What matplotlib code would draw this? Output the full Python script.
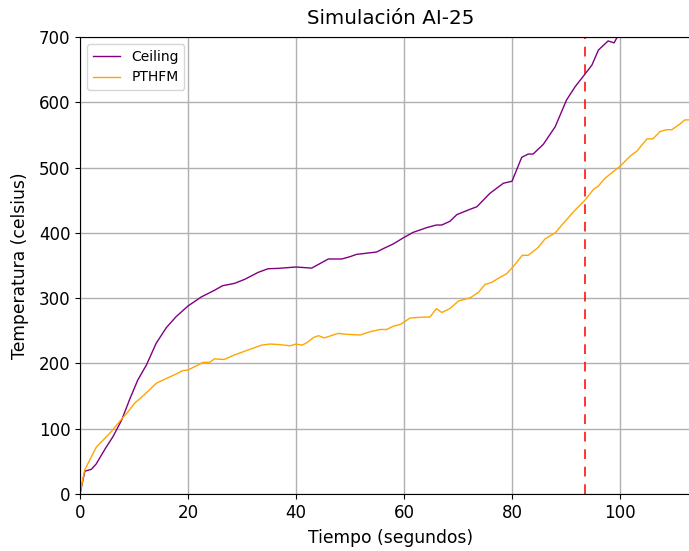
import matplotlib
matplotlib.use("Agg")
import matplotlib.pyplot as plt

# Ceiling temperature (time s, temp °C)
t_ceiling = [0, 0.9, 2.1, 3.0, 4.6, 6.1, 7.7, 9.2, 10.7, 12.3, 14.1, 16.0, 17.8, 20.0,
             22.5, 24.9, 26.4, 28.6, 30.5, 33.0, 34.8, 36.7, 40.0, 42.9, 46.0, 48.5,
             50.0, 51.2, 54.9, 56.2, 58.0, 60.0, 61.7, 64.2, 66.0, 67.0, 68.5, 69.8,
             72.2, 73.5, 75.9, 78.4, 80.0, 81.8, 83.0, 83.9, 85.8, 88.0, 90.1, 91.7,
             93.5, 94.8, 96.0, 97.8, 98.9, 99.6]
temp_ceiling = [0, 35, 37.8, 46, 68.4, 87.8, 113, 145, 174.6, 197.6, 230.8, 255, 271.6, 288,
                302, 312, 319, 322.6, 328.8, 339.5, 345, 345.6, 347.7, 346, 360, 360,
                363.5, 367, 370.6, 376, 383, 393, 400.8, 408, 412, 412, 417.7, 428,
                436, 440, 460.5, 476, 479, 515.7, 520.7, 520.7, 535.6, 562.6, 603.5, 624,
                643, 657, 680, 694, 691, 701.5]

# PTHFM temperature (time s, temp °C)
t_pthfm = [0, 0.87, 3.0, 5.8, 7.3, 8.9, 10.1, 12.0, 14.1, 16.0, 17.8, 19.0, 20.0, 21.5,
           22.8, 24.0, 24.9, 26.7, 28.6, 31.1, 33.6, 35.2, 36.7, 38.9, 40.0, 41.1, 42.0,
           43.3, 44.2, 45.2, 47.8, 49.4, 51.9, 53.7, 55.6, 56.8, 58.0, 59.4, 61.1, 63.6,
           64.8, 66.0, 67.0, 68.5, 70.1, 72.3, 73.8, 75.0, 76.2, 77.8, 79.0, 80.2, 81.9,
           83.0, 84.9, 86.1, 88.0, 89.5, 91.7, 93.5, 95.1, 96.0, 97.2, 100.0, 101.9,
           103.1, 105.0, 106.1, 107.4, 108.6, 109.6, 111.1, 112.0, 112.8]
temp_pthfm = [1, 36.8, 71.5, 95.5, 110.8, 126, 139, 152.7, 169.5, 177, 183.8, 188.9, 190, 196,
              201.7, 201.7, 207, 206, 213, 220.5, 228, 229.7, 229, 227, 229.7, 228, 231.7,
              240, 242.5, 239, 246, 244.6, 243.5, 248.6, 252, 252, 257, 260, 269.5, 271,
              271, 284, 278, 284, 295.6, 300.7, 309, 321, 324, 332, 337.4, 348, 365.6,
              365.6, 378, 390.6, 400, 414.6, 435, 450, 466.7, 471.7, 483.5, 502, 517.7,
              525, 544, 544, 555, 558, 558, 566.7, 573, 573]

event_time = 93.5

fig = plt.figure(figsize=(6.89, 5.51), dpi=100)
ax = fig.add_axes([80/689, 57/551, 621/689, 457/551])

ax.plot(t_ceiling, temp_ceiling, color="purple", lw=1.0, label="Ceiling")
ax.plot(t_pthfm, temp_pthfm, color="orange", lw=1.0, label="PTHFM")
ax.axvline(event_time, color="red", ls=(0, (5, 4)), lw=1.4, alpha=0.8)

ax.set_xlim(0, 115)
ax.set_ylim(0, 700)
ax.set_xticks([0, 20, 40, 60, 80, 100])
ax.set_yticks([0, 100, 200, 300, 400, 500, 600, 700])
ax.grid(True, color="#b0b0b0", lw=1.0)
ax.tick_params(labelsize=12)

ax.set_title("Simulación AI-25", fontsize=14.3, pad=9)
ax.set_xlabel("Tiempo (segundos)", fontsize=12.3, labelpad=5.5)
ax.set_ylabel("Temperatura (celsius)", fontsize=12.3, labelpad=7)
ax.legend(loc="upper left", fontsize=10)

fig.savefig("out.png", dpi=100)
